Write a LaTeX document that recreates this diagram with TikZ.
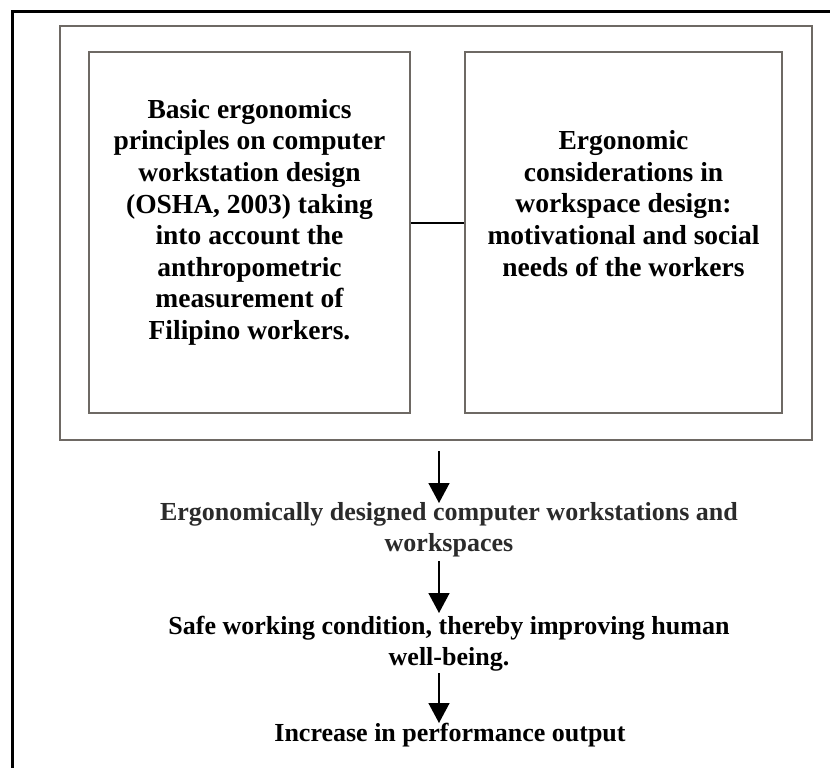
\documentclass[tikz,border=0pt]{standalone}
\usepackage{fontspec}
\setmainfont{Liberation Serif}
\usetikzlibrary{arrows.meta}
\definecolor{framegray}{HTML}{6E6964}
\definecolor{darktext}{HTML}{2B2B2B}
\begin{document}
\begin{tikzpicture}[x=1pt,y=-1pt,
  panel/.style={draw=framegray,line width=1.6pt,rectangle,inner sep=0pt},
  boxtext/.style={align=center,inner sep=0pt,font=\fontsize{27.5}{31.6}\selectfont\bfseries},
  flowtext/.style={align=center,inner sep=0pt,font=\fontsize{26}{31}\selectfont\bfseries},
  flowarrow/.style={line width=1.5pt,-{Triangle[width=21pt,length=20pt]}}]
  \useasboundingbox (0,0) rectangle (830,768);
  % outer page frame (only left and top edges fall inside the page)
  \draw[line width=2.8pt] (12.4,768) -- (12.4,11.4) -- (830,11.4);
  % grouping frame around the two input boxes
  \node[panel,minimum width=752pt,minimum height=414pt] (frame) at (436,233) {};
  % input boxes
  \node[panel,minimum width=321pt,minimum height=361pt] (left) at (249.5,232.5) {};
  \node[panel,minimum width=317pt,minimum height=361pt] (right) at (623.5,232.5) {};
  % multi-line nodes: the base anchor sits on the last line's baseline
  \node[boxtext,anchor=base] (lefttext) at (249.5,339.5)
    {Basic ergonomics\\principles on computer\\workstation design\\(OSHA, 2003) taking\\into account the\\anthropometric\\measurement of\\Filipino workers.};
  \node[boxtext,anchor=base] (righttext) at (623.5,276)
    {Ergonomic\\considerations in\\workspace design:\\motivational and social\\needs of the workers};
  \draw[line width=1.5pt] (left.east |- 0,223) -- (right.west |- 0,223);
  % outcome chain
  \node[flowtext,anchor=base,text=darktext] (design) at (449,551)
    {Ergonomically designed computer workstations and\\workspaces};
  \node[flowtext,anchor=base] (safe) at (449,665)
    {Safe working condition, thereby improving human\\well-being.};
  \node[flowtext,anchor=base] (output) at (450,741)
    {Increase in performance output};
  \coordinate (a1s) at (439,451);
  \coordinate (a1e) at (439,503);
  \coordinate (a2s) at (439,561);
  \coordinate (a2e) at (439,613);
  \coordinate (a3s) at (439,673);
  \coordinate (a3e) at (439,723);
  \draw[flowarrow] (a1s) -- (a1e);
  \draw[flowarrow] (a2s) -- (a2e);
  \draw[flowarrow] (a3s) -- (a3e);
\end{tikzpicture}
\end{document}
